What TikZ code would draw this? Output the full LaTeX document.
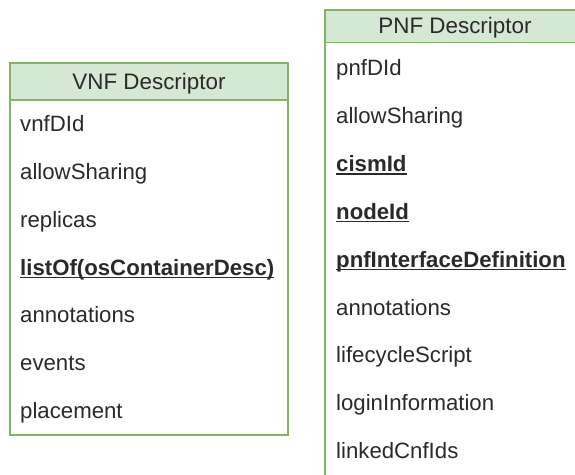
\documentclass[tikz,border=0pt]{standalone}
\usepackage{fontspec}
\setmainfont{Liberation Sans}
\definecolor{hdrfill}{HTML}{D5E8D4}
\definecolor{hdrline}{HTML}{82B366}
\definecolor{txt}{HTML}{2A2A2A}
\newsavebox\ulbox
\newcommand\myul[1]{\sbox\ulbox{#1}\rlap{\rule[-3.2pt]{\wd\ulbox}{1.7pt}}\usebox\ulbox}
\begin{document}
\begin{tikzpicture}[x=1pt,y=-1pt,
  boxline/.style={draw=hdrline,line width=1.5pt},
  hdr/.style={boxline,fill=hdrfill},
  field/.style={anchor=base west,inner sep=0pt,text=txt,font=\fontsize{22.2}{24}\selectfont},
  title/.style={anchor=base,inner sep=0pt,text=txt,font=\fontsize{22.4}{24}\selectfont}]
\useasboundingbox (0,0) rectangle (575,474);
% VNF
\draw[boxline,fill=white] (10,63) rectangle (288,435);
\draw[hdr] (10,63) rectangle (288,100);
\node[title] (vt) at (149,89) {VNF Descriptor};
\node[field] (v1) at (20,131.7) {vnfDId};
\node[field] (v2) at (20,179.5) {allowSharing};
\node[field] (v3) at (20,227.3) {replicas};
\node[field] (v4) at (20,275.1) {\bfseries\myul{listOf(osContainerDesc)}};
\node[field] (v5) at (20,322.9) {annotations};
\node[field] (v6) at (20,370.7) {events};
\node[field] (v7) at (20,418.5) {placement};
% PNF
\draw[boxline,fill=white] (325,10) rectangle (590,490);
\draw[hdr] (325,10) rectangle (590,42.7);
\node[title] (pt) at (455,33.3) {PNF Descriptor};
\node[field] (p1) at (336,75.5) {pnfDId};
\node[field] (p2) at (336,123.4) {allowSharing};
\node[field] (p3) at (336,171.3) {\bfseries\myul{cismId}};
\node[field] (p4) at (336,219.2) {\bfseries\myul{nodeId}};
\node[field] (p5) at (336,267.1) {\bfseries\myul{pnfInterfaceDefinition}};
\node[field] (p6) at (336,315.0) {annotations};
\node[field] (p7) at (336,362.9) {lifecycleScript};
\node[field] (p8) at (336,410.8) {loginInformation};
\node[field] (p9) at (336,458.7) {linkedCnfIds};
\end{tikzpicture}
\end{document}
